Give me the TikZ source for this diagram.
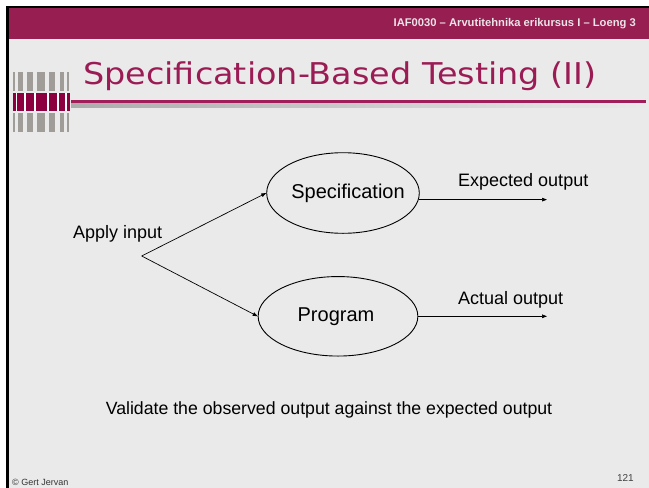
\documentclass[tikz,border=0pt]{standalone}
\usepackage{graphicx}
\usepackage{fontspec}
\setmainfont{Liberation Sans}
\newfontfamily\titlefont{DejaVu Sans}
\usetikzlibrary{shapes.geometric,arrows.meta}

\definecolor{bgcol}{RGB}{234,234,234}
\definecolor{bandcol}{RGB}{150,30,80}
\definecolor{titlecol}{RGB}{155,28,84}
\definecolor{rulecol}{RGB}{160,30,90}
\definecolor{iconred}{RGB}{140,0,64}
\definecolor{icongray}{RGB}{160,156,152}
\definecolor{headtext}{RGB}{236,228,232}
\definecolor{shadegray}{RGB}{172,172,172}

\tikzset{
  blob/.style={ellipse, draw=black, line width=0.9pt, inner sep=0pt},
  flow/.style={line width=0.7pt, -{Triangle[length=5pt,width=3.6pt]}},
  lbl/.style={inner sep=0pt, font=\fontsize{18}{21}\selectfont},
}

\begin{document}
\begin{tikzpicture}[x=1pt,y=-1pt]
\useasboundingbox (0,0) rectangle (649,488);

% page, slide background and frame
\fill[white] (0,0) rectangle (649,488);
\fill[bgcol] (6,6) rectangle (649,488);
\fill[bandcol] (8.7,8) rectangle (649,39);
\fill[black] (6,6) rectangle (649,8);
\fill[black] (6,6) rectangle (8.7,488);

% header line
\node[anchor=base east, inner sep=0pt, text=headtext,
      font=\bfseries\fontsize{11.2}{13}\selectfont] (head) at (636,26.7)
  {IAF0030 – Arvutitehnika erikursus I – Loeng 3};

% bar logo
\foreach \a/\b in {12.7/15.3, 18/23.3, 26.7/33.3, 37.3/44.7, 49.3/55.3, 60/64, 67.3/69.3}{
  \fill[icongray] (\a,72) rectangle (\b,90.7);
  \fill[icongray] (\a,113.3) rectangle (\b,131.7);
}
\fill[white] (12.7,93.3) rectangle (70,110.7);
\foreach \a/\b in {12.7/16, 17.3/24, 26/34, 36/46.7, 48.7/56.7, 58.7/65.3, 66.7/70}{
  \fill[iconred] (\a,93.3) rectangle (\b,110.7);
}

% title and its rule
\node[anchor=base west, inner sep=0pt, text=titlecol] (title) at (83,84)
  {\titlefont\fontsize{30}{34}\selectfont\resizebox{513pt}{\height}{Specification-Based Testing (II)}};
\shade[left color=shadegray, right color=bgcol] (71,103) rectangle (649,107.7);
\fill[rulecol] (71,100.3) rectangle (646,103);

% diagram
\node[blob, minimum width=152.6pt, minimum height=80.6pt] (spec) at (343,193)
  {\makebox[0pt]{\hspace{10pt}\fontsize{20}{24}\selectfont Specification}};
\node[blob, minimum width=159.7pt, minimum height=79.5pt] (prog) at (338,316.3)
  {\makebox[0pt]{\hspace{-4pt}\fontsize{20}{24}\selectfont Program}};

\coordinate (split) at (141.7,256);
\coordinate (specout) at (547,199.3);
\coordinate (progout) at (547,316.3);

\draw[flow] (split) -- (spec.west);
\draw[flow] (split) -- (prog.west);
\draw[flow] (spec.-5) -- (spec.-5 -| specout);
\draw[flow] (prog.east) -- (prog.east -| progout);

\node[lbl, anchor=base west] (applyin) at (73,238.3) {Apply input};
\node[lbl, anchor=base west] (expout) at (458,186.7) {Expected output};
\node[lbl, anchor=base west] (actout) at (458,304) {Actual output};

\node[inner sep=0pt, anchor=base, font=\fontsize{17.7}{21}\selectfont] (validate) at (329,414.5)
  {Validate the observed output against the expected output};

% footer
\node[inner sep=0pt, anchor=base west, text=black!80, font=\fontsize{9}{11}\selectfont] (copy) at (12,485.8)
  {© Gert Jervan};
\node[inner sep=0pt, anchor=base east, text=black!75, font=\fontsize{10}{12}\selectfont] (pageno) at (634,481.3)
  {121};
\end{tikzpicture}
\end{document}
